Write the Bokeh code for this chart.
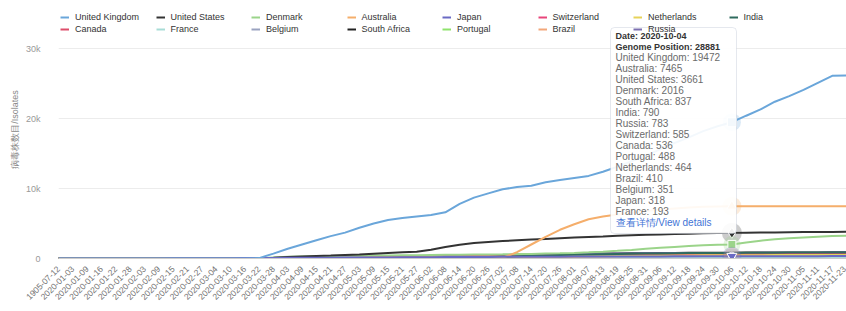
import math
from bokeh.plotting import figure
from bokeh.models import (Range1d, FixedTicker, Legend, LegendItem, Label,
                          BoxAnnotation, ColumnDataSource)
from bokeh.embed import file_html
from bokeh.resources import INLINE

dates = ["1905-07-12",
         "2020-01-03", "2020-01-09", "2020-01-16", "2020-01-22", "2020-01-28",
         "2020-02-03", "2020-02-09", "2020-02-15", "2020-02-21", "2020-02-27",
         "2020-03-04", "2020-03-10", "2020-03-16", "2020-03-22", "2020-03-28",
         "2020-04-03", "2020-04-09", "2020-04-15", "2020-04-21", "2020-04-27",
         "2020-05-03", "2020-05-09", "2020-05-15", "2020-05-21", "2020-05-27",
         "2020-06-02", "2020-06-08", "2020-06-14", "2020-06-20", "2020-06-26",
         "2020-07-02", "2020-07-08", "2020-07-14", "2020-07-20", "2020-07-26",
         "2020-08-01", "2020-08-07", "2020-08-13", "2020-08-19", "2020-08-25", "2020-08-31",
         "2020-09-06", "2020-09-12", "2020-09-18", "2020-09-24", "2020-09-30",
         "2020-10-06", "2020-10-12", "2020-10-18", "2020-10-24", "2020-10-30",
         "2020-11-05", "2020-11-11", "2020-11-17", "2020-11-23"]

uk = [0]*12 + [5, 15, 60, 700, 1400, 2000, 2600, 3200, 3700, 4400,
               5000, 5500, 5800, 6000, 6200, 6600, 7800, 8700, 9300, 9900,
               10200, 10400, 10900, 11200, 11500, 11800, 12400, 13100, 13900, 14700,
               15600, 16500, 17300, 18200, 18900, 19472, 20400, 21300, 22400, 23200,
               24100, 25100, 26100, 26150]
us = [0]*13 + [10, 50, 120, 200, 280, 350, 420, 500, 580, 680,
               780, 880, 980, 1250, 1650, 1950, 2200, 2350, 2500, 2600,
               2700, 2800, 2900, 3000, 3080, 3160, 3250, 3320, 3380, 3440,
               3500, 3550, 3600, 3630, 3661, 3690, 3710, 3730, 3750, 3770, 3790, 3800, 3810]
australia = [0]*31 + [100, 900, 2000, 3100, 4100, 4900, 5600, 6000, 6300, 6550,
                      6800, 7000, 7150, 7300, 7380, 7430, 7465,
                      7465, 7466, 7466, 7467, 7468, 7468, 7469, 7470]
denmark = [0]*14 + [30, 150, 250, 300, 330, 360, 380, 400, 420, 440,
                    460, 480, 500, 520, 540, 560, 580, 600, 630, 660,
                    700, 740, 800, 880, 980, 1100, 1230, 1380, 1520, 1650,
                    1780, 1880, 1960, 2016, 2300, 2550, 2750, 2900, 3000, 3100, 3200, 3260]
south_africa = [0]*22 + [20, 40, 70, 110, 160, 210, 270, 330, 390, 450,
                         500, 550, 590, 630, 660, 690, 710, 730, 750, 765,
                         780, 795, 808, 818, 827, 837,
                         845, 852, 858, 864, 869, 874, 878, 882]
india = [0]*27 + [40, 90, 150, 210, 270, 330, 390, 440, 490, 530,
                  570, 610, 645, 675, 705, 730, 752, 770, 781, 786, 790,
                  805, 818, 830, 842, 851, 860, 868, 875]
russia = [0]*18 + [15, 35, 60, 90, 125, 160, 200, 240, 280, 320,
                   360, 400, 435, 470, 505, 540, 570, 600, 630, 655,
                   680, 705, 725, 745, 758, 768, 774, 778, 781, 783,
                   795, 806, 815, 824, 832, 839, 846, 852]
switzerland = [0]*15 + [10, 30, 55, 80, 105, 130, 150, 170, 190, 210,
                        230, 250, 270, 290, 310, 330, 350, 370, 390, 410,
                        430, 450, 470, 490, 510, 528, 545, 558, 567, 574, 580, 583, 585,
                        620, 650, 675, 695, 712, 726, 738, 748]
canada = [0]*16 + [10, 25, 45, 70, 95, 120, 145, 170, 195, 220,
                   245, 270, 295, 318, 340, 360, 380, 398, 415, 430,
                   445, 458, 470, 482, 493, 503, 512, 520, 525, 529, 533, 536,
                   545, 553, 560, 566, 571, 576, 580, 584]
portugal = [0]*20 + [10, 20, 35, 50, 65, 80, 100, 120, 140, 160,
                     180, 200, 220, 240, 260, 280, 300, 320, 340, 360,
                     380, 400, 420, 440, 455, 468, 478, 488,
                     510, 530, 548, 565, 580, 594, 606, 618]
netherlands = [0]*17 + [10, 25, 40, 60, 80, 100, 120, 140, 160, 180,
                        200, 220, 240, 258, 275, 292, 308, 323, 337, 350,
                        362, 374, 385, 396, 406, 416, 425, 435, 447, 456, 464,
                        472, 479, 486, 492, 497, 502, 506, 510]
brazil = [0]*25 + [10, 25, 45, 65, 85, 110, 135, 160, 185, 210,
                   235, 258, 280, 300, 320, 340, 357, 372, 386, 398,
                   403, 407, 410,
                   418, 425, 431, 436, 440, 444, 447, 450]
belgium = [0]*14 + [5, 15, 30, 45, 60, 75, 90, 105, 120, 135,
                    150, 165, 180, 195, 208, 220, 232, 244, 255, 265,
                    274, 283, 291, 299, 306, 313, 319, 325, 330, 335,
                    339, 343, 347, 351,
                    356, 361, 365, 369, 372, 375, 378, 380]
japan = [0]*5 + [5, 10, 15, 20, 25, 30, 40, 50, 60, 70,
                 80, 90, 100, 110, 120, 130, 140, 150, 160, 170,
                 180, 190, 200, 210, 218, 226, 234, 242, 250, 257,
                 264, 270, 276, 282, 287, 292, 296, 300, 304, 308,
                 312, 315, 318,
                 322, 326, 329, 332, 335, 338, 341, 344]
france = [0]*10 + [5, 10, 15, 20, 28, 36, 44, 52, 60, 68,
                   76, 84, 92, 100, 107, 114, 121, 128, 134, 140,
                   146, 151, 156, 161, 165, 169, 173, 177, 180, 183,
                   186, 188, 189, 190, 191, 192, 192, 193,
                   197, 201, 205, 209, 212, 215, 218, 221]

y_ticks = [0, 10000, 20000, 30000]
y_tick_labels = ["0", "10k", "20k", "30k"]
y_top = 36860  # headroom above the 30k line for legend and tooltip

hover_date_label = "2020-10-04"
hover_category = "2020-10-06"
genome_position = 28881

series = {
    "United Kingdom": (uk, "#6aa6da"),
    "United States": (us, "#333333"),
    "Denmark": (denmark, "#9bd48a"),
    "Australia": (australia, "#f5ae6b"),
    "Japan": (japan, "#6a6ac4"),
    "Switzerland": (switzerland, "#e8457a"),
    "Netherlands": (netherlands, "#e6d35a"),
    "India": (india, "#2f6b5e"),
    "Canada": (canada, "#dd4d6a"),
    "France": (france, "#a8dcd6"),
    "Belgium": (belgium, "#9aa3c0"),
    "South Africa": (south_africa, "#222222"),
    "Portugal": (portugal, "#8fe36c"),
    "Brazil": (brazil, "#f2a77a"),
    "Russia": (russia, "#7b6fb0"),
}
legend_columns = [["United Kingdom", "Canada"], ["United States", "France"],
                  ["Denmark", "Belgium"], ["Australia", "South Africa"],
                  ["Japan", "Portugal"], ["Switzerland", "Brazil"],
                  ["Netherlands", "Russia"], ["India"]]
draw_order = ["Canada", "France", "Belgium", "South Africa", "Portugal", "Brazil",
              "Russia", "Switzerland", "Netherlands", "India", "Denmark",
              "United States", "Australia", "Japan", "United Kingdom"]

FONT = "Liberation Sans"
n = len(dates)
data = {"x": list(range(n))}
for name, (vals, _) in series.items():
    data[name] = vals
src = ColumnDataSource(data)

p = figure(width=846, height=311, output_backend="svg", toolbar_location=None,
           x_range=Range1d(0, n - 1), y_range=Range1d(y_ticks[0], y_top),
           min_border_left=58, min_border_right=0, min_border_top=0,
           min_border_bottom=53)
p.outline_line_color = None
p.background_fill_color = "white"
p.xgrid.visible = False
p.ygrid.grid_line_color = "#ececec"

p.xaxis.ticker = FixedTicker(ticks=list(range(n)))
p.xaxis.major_label_overrides = {i: d for i, d in enumerate(dates)}
p.xaxis.major_label_orientation = math.pi / 4
p.xaxis.major_label_text_font = FONT
p.xaxis.major_label_text_font_size = "8.5px"
p.xaxis.major_label_text_color = "#707070"
p.xaxis.major_tick_line_color = None
p.xaxis.minor_tick_line_color = None
p.xaxis.axis_line_color = "#cccccc"
p.xaxis.major_label_standoff = 3

p.yaxis.ticker = FixedTicker(ticks=y_ticks)
p.yaxis.major_label_overrides = dict(zip(y_ticks, y_tick_labels))
p.yaxis.major_label_text_font = FONT
p.yaxis.major_label_text_font_size = "9px"
p.yaxis.major_label_text_color = "#999999"
p.yaxis.major_tick_line_color = None
p.yaxis.minor_tick_line_color = None
p.yaxis.axis_line_color = None
p.yaxis.major_label_standoff = 12
p.yaxis.axis_label = "病毒株数目/Isolates"
p.yaxis.axis_label_text_font = FONT
p.yaxis.axis_label_text_font_size = "9px"
p.yaxis.axis_label_text_font_style = "normal"
p.yaxis.axis_label_text_color = "#888888"
p.yaxis.axis_label_standoff = 3

renderers = {}
for name in draw_order:
    color = series[name][1]
    renderers[name] = p.line(x="x", y=name, source=src, line_color=color, line_width=2)

# highlighted markers at hover category
hi = dates.index(hover_category)
markers = [("United Kingdom", "square", 9), ("Australia", "triangle", 10),
           ("United States", "diamond", 11), ("Denmark", "square", 8),
           ("Brazil", "circle", 7), ("Japan", "inverted_triangle", 10)]
for name, mk, sz in markers:
    vals, color = series[name]
    p.scatter(x=[hi], y=[vals[hi]], marker="circle", size=sz + 9,
              fill_color=color, fill_alpha=0.25, line_alpha=0)
    p.scatter(x=[hi], y=[vals[hi]], marker=mk, size=sz,
              fill_color=color, line_color="white", line_width=1)

# legends, one per column
for j, col in enumerate(legend_columns):
    items = [LegendItem(label=nm, renderers=[renderers[nm]]) for nm in col]
    leg = Legend(items=items, location=(2 + 95.5 * j, 223 + 12 * (2 - len(col))),
                 orientation="vertical", padding=0, margin=0, spacing=0,
                 glyph_width=9, glyph_height=12, label_height=12,
                 label_standoff=6, label_text_font=FONT,
                 label_text_font_size="9px", label_text_color="#333333",
                 border_line_color=None, background_fill_alpha=0)
    p.add_layout(leg)

# tooltip box (drawn above the legends)
box = BoxAnnotation(left=552, right=678, top=231, bottom=25,
                    left_units="screen", right_units="screen",
                    top_units="screen", bottom_units="screen",
                    fill_color="white", fill_alpha=0.92,
                    line_color="#a9b2c6", line_width=1, border_radius=4,
                    level="overlay")
p.add_layout(box)

tip_rows = sorted(((nm, v[hi]) for nm, (v, _) in series.items()),
                  key=lambda t: -t[1])
lines = [("Date: " + hover_date_label, "bold", "#333333", "9px"),
         ("Genome Position: " + str(genome_position), "bold", "#333333", "9px")]
lines += [(f"{nm}: {val}", "normal", "#6b6b6b", "10px") for nm, val in tip_rows]
lines += [("查看详情/View details", "normal", "#3f74d6", "10px")]
for i, (txt, style, color, size) in enumerate(lines):
    p.add_layout(Label(x=557, y=223 - 11 * i, x_units="screen", y_units="screen",
                       text=txt, text_baseline="middle", text_font=FONT,
                       text_font_size=size, text_font_style=style,
                       text_color=color, level="overlay"))

open("out.html", "w").write(file_html(p, INLINE))
